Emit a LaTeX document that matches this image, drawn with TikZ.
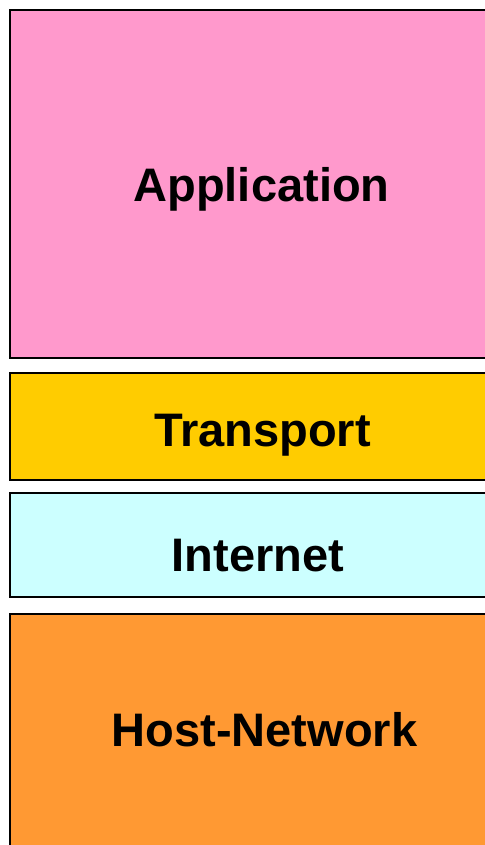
\documentclass[tikz,border=0pt]{standalone}
\usepackage{fontspec}
\setmainfont{Liberation Sans}
\usetikzlibrary{positioning}
\definecolor{appcol}{HTML}{FF99CC}
\definecolor{transcol}{HTML}{FFCC00}
\definecolor{netcol}{HTML}{CCFFFF}
\definecolor{hostcol}{HTML}{FF9933}
\tikzset{
  layerbox/.style={draw=black,line width=1.8bp,inner sep=0pt,outer sep=0pt,minimum width=510bp},
  layertext/.style={anchor=base,inner sep=0pt,font=\fontsize{47.2}{56}\selectfont\bfseries},
}
\begin{document}
\begin{tikzpicture}
%%
\clip (0bp,0bp) rectangle (485bp,845bp);
\node (box_app) at (265bp,661bp) [layerbox,fill=appcol,minimum height=348bp] {};
  \node (box_trans) at (265bp,418.5bp) [layerbox,fill=transcol,minimum height=107bp] {};
  \node (box_net) at (265bp,300bp) [layerbox,fill=netcol,minimum height=104bp] {};
  \node (box_host) at (265bp,88bp) [layerbox,fill=hostcol,minimum height=286bp] {};
  \node (text_app) at (261.5bp,643bp) [layertext] {Application};
  \node (text_trans) at (262.5bp,398bp) [layertext] {Transport};
  \node (text_net) at (258bp,273bp) [layertext] {Internet};
  \node (text_host) at (264.5bp,98bp) [layertext] {Host-Network};
%
\end{tikzpicture}
\end{document}
